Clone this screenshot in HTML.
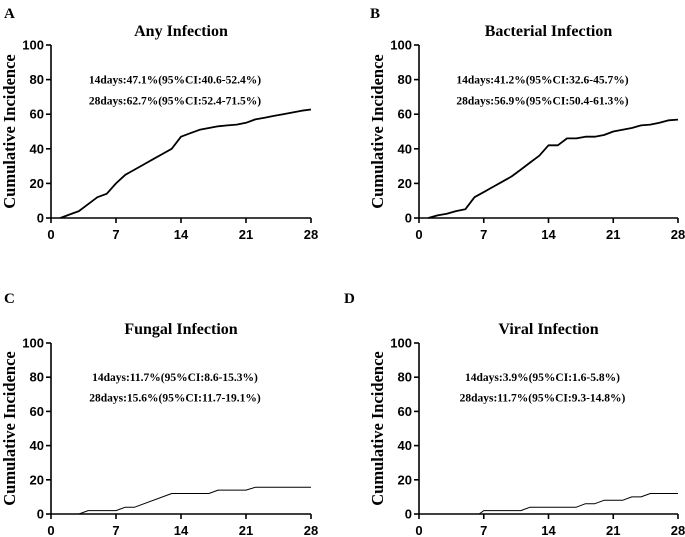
<!DOCTYPE html>
<html><head><meta charset="utf-8"><style>
html,body{margin:0;padding:0;background:#fff;}
svg{display:block;}
text{fill:#000;}
.serif{font-family:"Liberation Serif",serif;font-weight:bold;}
.sans{font-family:"Liberation Sans",sans-serif;font-weight:bold;font-size:13px;}
</style></head><body>
<svg id="fig" width="685" height="537"></svg>
<script>
const xTicks = [0, 7, 14, 21, 28];
const yTicks = [0, 20, 40, 60, 80, 100];
const daysA = [1,2,3,4,5,6,7,8,9,10,11,12,13,14,15,16,17,18,19,20,21,22,23,24,25,26,27,28];
const valsA = [0,2,4,8,12,14,20,25,28,31,34,37,40,47,49,51,52,53,53.5,54,55,57,58,59,60,61,62,62.7];
const daysB = [1,2,3,4,5,6,7,8,9,10,11,12,13,14,15,16,17,18,19,20,21,22,23,24,25,26,27,28];
const valsB = [0,1.5,2.5,4,5,12,15,18,21,24,28,32,36,42,42,46,46,47,47,48,50,51,52,53.5,54,55,56.5,56.9];
const daysC = [0,3,4,7,8,9,13,17,18,21,22,28];
const valsC = [0,0,2,2,4,4,12,12,14,14,15.6,15.6];
const daysD = [0,6.5,7,11,12,17,18,19,20,22,23,24,25,28];
const valsD = [0,0,2,2,4,4,6,6,8,8,10,10,12,12];
const titles = ["Any Infection","Bacterial Infection","Fungal Infection","Viral Infection"];
const letters = ["A","B","C","D"];
const notes14 = ["14days:47.1%(95%CI:40.6-52.4%)","14days:41.2%(95%CI:32.6-45.7%)","14days:11.7%(95%CI:8.6-15.3%)","14days:3.9%(95%CI:1.6-5.8%)"];
const notes28 = ["28days:62.7%(95%CI:52.4-71.5%)","28days:56.9%(95%CI:50.4-61.3%)","28days:15.6%(95%CI:11.7-19.1%)","28days:11.7%(95%CI:9.3-14.8%)"];

const NS="http://www.w3.org/2000/svg";
const svg=document.getElementById('fig');
function mk(tag,attrs,parent,txt){const e=document.createElementNS(NS,tag);for(const k in attrs)e.setAttribute(k,attrs[k]);if(txt!==undefined)e.textContent=txt;parent.appendChild(e);return e;}

const panels=[
 {x0:51,x1:311,yTop:45,yBot:218,lx:4,ly:18,days:daysA,vals:valsA,sw:1.8},
 {x0:419,x1:678,yTop:45,yBot:218,lx:370,ly:18,days:daysB,vals:valsB,sw:1.8},
 {x0:51,x1:311,yTop:343,yBot:514,lx:4,ly:303,days:daysC,vals:valsC,sw:1},
 {x0:419,x1:678,yTop:343,yBot:514,lx:344,ly:303,days:daysD,vals:valsD,sw:1}
];
panels.forEach((p,i)=>{
 const g=mk('g',{},svg);
 
 
 const sx=d=>p.x0+(d/28)*(p.x1-p.x0);
 const sy=v=>p.yBot-(v/100)*(p.yBot-p.yTop);
 const cx=(p.x0+p.x1)/2, cy=(p.yTop+p.yBot)/2;
 let t=mk('text',{x:p.lx,y:p.ly,class:'serif','font-size':15},g,letters[i]);
 
 t=mk('text',{x:cx,y:p.yTop-9,class:'serif','font-size':16,'text-anchor':'middle'},g,titles[i]);
 
 t=mk('text',{x:0,y:0,class:'serif','font-size':16.5,'text-anchor':'middle',transform:`translate(${p.x0-36},${cy}) rotate(-90)`},g,'Cumulative Incidence');
 
 let ax=mk('line',{x1:p.x0,y1:p.yTop,x2:p.x0,y2:p.yBot,stroke:'#000','stroke-width':1.6},g);
 
 ax=mk('line',{x1:p.x0,y1:p.yBot,x2:p.x1,y2:p.yBot,stroke:'#000','stroke-width':1.6},g);
 
 yTicks.forEach(v=>{
  mk('line',{x1:p.x0-5,y1:sy(v),x2:p.x0,y2:sy(v),stroke:'#000','stroke-width':1.6},g);
  const l=mk('text',{x:p.x0-7,y:sy(v)+4.5,class:'sans','text-anchor':'end'},g,v);
  
 });
 xTicks.forEach(d=>{
  mk('line',{x1:sx(d),y1:p.yBot,x2:sx(d),y2:p.yBot+5,stroke:'#000','stroke-width':1.6},g);
  const l=mk('text',{x:sx(d),y:p.yBot+21,class:'sans','text-anchor':'middle'},g,d);
  
 });
 const pts=p.days.map((d,k)=>sx(d).toFixed(1)+','+sy(p.vals[k]).toFixed(1)).join(' ');
 const line=mk('polyline',{points:pts,fill:'none',stroke:'#000','stroke-width':p.sw,'stroke-linejoin':'round'},g);
 
 t=mk('text',{x:cx-6,y:sy(80)+4,class:'serif','font-size':11.5,'text-anchor':'middle'},g,notes14[i]);
 
 t=mk('text',{x:cx-6,y:sy(68)+4,class:'serif','font-size':11.5,'text-anchor':'middle'},g,notes28[i]);
 
});
</script>
</body></html>
